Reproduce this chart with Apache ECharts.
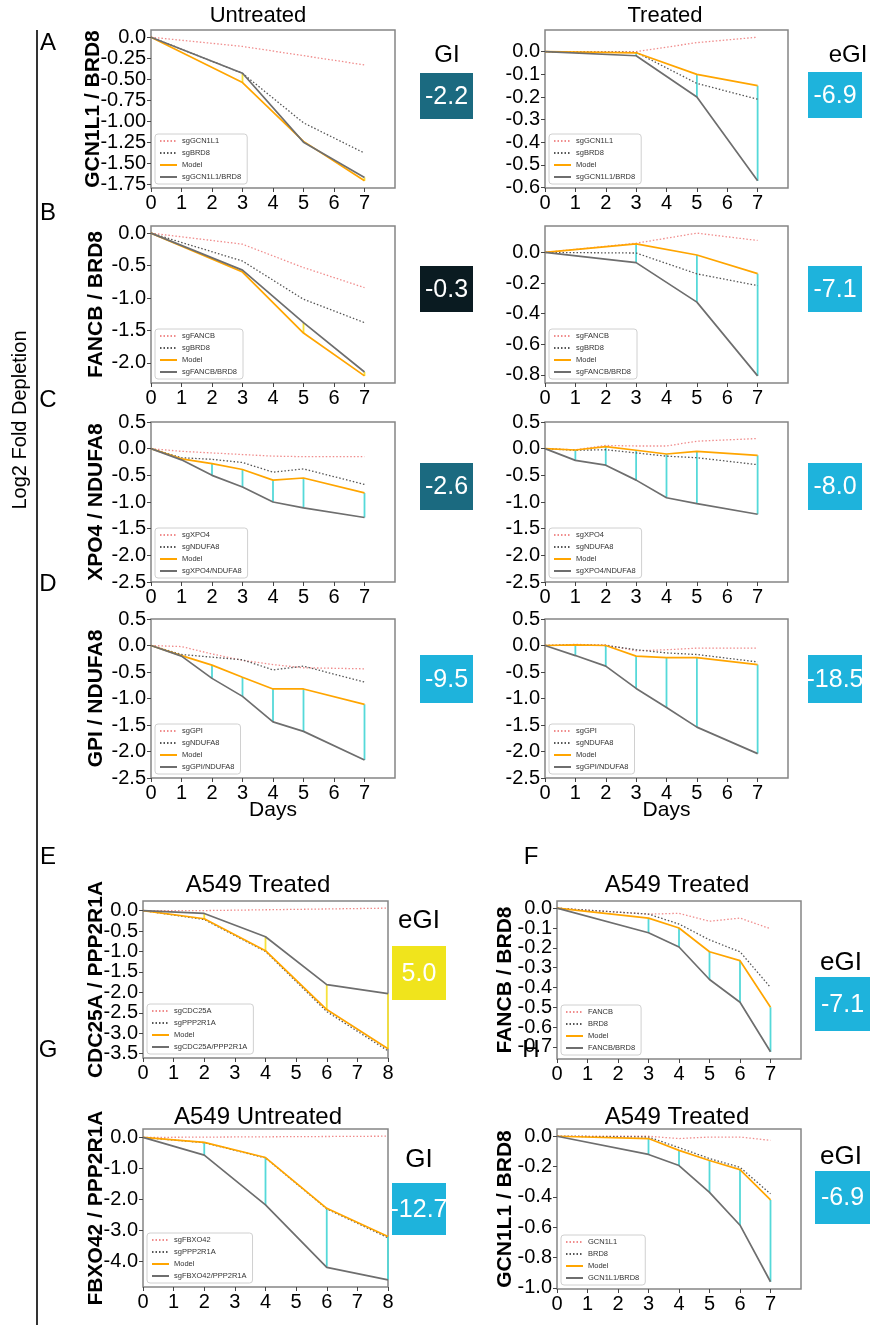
<!DOCTYPE html>
<html>
<head>
<meta charset="utf-8">
<script src="https://cdn.jsdelivr.net/npm/echarts@6/dist/echarts.min.js"></script>
<style>
html,body{margin:0;padding:0;background:#fff;}
#main{width:872px;height:1331px;}
</style>
</head>
<body>
<div id="main"></div>
<script>
// log2 fold depletion per day
var days0357 = [0, 3, 5, 7];
var days7 = [0, 1, 2, 3, 4, 5, 7];
var days8 = [0, 2, 4, 6, 8];
var daysA549 = [0, 3, 4, 5, 6, 7];

// A  GCN1L1 / BRD8
var aUntGene1 = [0, -0.11, -0.22, -0.33];
var aUntGene2 = [0, -0.43, -1.02, -1.38];
var aUntModel = [0, -0.54, -1.24, -1.71];
var aUntDouble = [0, -0.43, -1.25, -1.67];
var aTrtGene1 = [0, 0.0, 0.04, 0.064];
var aTrtGene2 = [0, -0.003, -0.14, -0.21];
var aTrtModel = [0, -0.005, -0.10, -0.15];
var aTrtDouble = [0, -0.018, -0.20, -0.57];
// B  FANCB / BRD8
var bUntGene1 = [0, -0.17, -0.53, -0.84];
var bUntGene2 = [0, -0.43, -1.02, -1.38];
var bUntModel = [0, -0.60, -1.54, -2.20];
var bUntDouble = [0, -0.57, -1.38, -2.14];
var bTrtGene1 = [0, 0.06, 0.126, 0.078];
var bTrtGene2 = [0, -0.004, -0.14, -0.217];
var bTrtModel = [0, 0.056, -0.017, -0.139];
var bTrtDouble = [0, -0.067, -0.325, -0.807];
// C  XPO4 / NDUFA8
var cUntGene1 = [0, -0.05, -0.08, -0.11, -0.14, -0.15, -0.15];
var cUntGene2 = [0, -0.17, -0.20, -0.26, -0.44, -0.38, -0.67];
var cUntModel = [0, -0.19, -0.28, -0.39, -0.59, -0.55, -0.83];
var cUntDouble = [0, -0.21, -0.50, -0.72, -1.00, -1.11, -1.29];
var cTrtGene1 = [0, -0.02, 0.06, 0.05, 0.05, 0.14, 0.19];
var cTrtGene2 = [0, -0.03, -0.02, -0.08, -0.14, -0.17, -0.30];
var cTrtModel = [0, -0.025, 0.04, -0.03, -0.10, -0.05, -0.125];
var cTrtDouble = [0, -0.22, -0.31, -0.59, -0.92, -1.03, -1.23];
// D  GPI / NDUFA8
var dUntGene1 = [0, -0.02, -0.16, -0.28, -0.36, -0.42, -0.44];
var dUntGene2 = [0, -0.17, -0.22, -0.27, -0.46, -0.39, -0.69];
var dUntModel = [0, -0.19, -0.37, -0.60, -0.82, -0.82, -1.11];
var dUntDouble = [0, -0.20, -0.62, -0.96, -1.44, -1.62, -2.16];
var dTrtGene1 = [0, 0.02, 0.01, -0.10, -0.08, -0.05, -0.05];
var dTrtGene2 = [0, 0.01, 0.0, -0.08, -0.14, -0.17, -0.31];
var dTrtModel = [0, 0.01, 0.0, -0.20, -0.23, -0.23, -0.36];
var dTrtDouble = [0, -0.19, -0.39, -0.81, -1.17, -1.54, -2.04];
// E  CDC25A / PPP2R1A (A549 treated)
var eGene1 = [0, 0.0, 0.02, 0.04, 0.06];
var eGene2 = [0, -0.22, -1.00, -2.47, -3.43];
var eModel = [0, -0.20, -0.98, -2.42, -3.38];
var eDouble = [0, -0.07, -0.64, -1.81, -2.03];
// F  FANCB / BRD8 (A549 treated)
var fGene1 = [0, -0.03, -0.026, -0.066, -0.05, -0.104];
var fGene2 = [0, -0.03, -0.08, -0.16, -0.22, -0.40];
var fModel = [0, -0.05, -0.10, -0.22, -0.265, -0.50];
var fDouble = [0, -0.124, -0.196, -0.36, -0.475, -0.725];
// G  FBXO42 / PPP2R1A (A549 untreated)
var gGene1 = [0, 0.01, 0.02, 0.03, 0.04];
var gGene2 = [0, -0.17, -0.66, -2.31, -3.24];
var gModel = [0, -0.16, -0.65, -2.29, -3.20];
var gDouble = [0, -0.57, -2.18, -4.20, -4.60];
// H  GCN1L1 / BRD8 (A549 treated)
var hGene1 = [0, 0.0, -0.015, -0.005, -0.005, -0.027];
var hGene2 = [0, -0.005, -0.075, -0.147, -0.205, -0.38];
var hModel = [0, -0.015, -0.093, -0.16, -0.22, -0.42];
var hDouble = [0, -0.12, -0.193, -0.37, -0.587, -0.96];

// legend names
var legendA = ['sgGCN1L1', 'sgBRD8', 'Model', 'sgGCN1L1/BRD8'];
var legendB = ['sgFANCB', 'sgBRD8', 'Model', 'sgFANCB/BRD8'];
var legendC = ['sgXPO4', 'sgNDUFA8', 'Model', 'sgXPO4/NDUFA8'];
var legendD = ['sgGPI', 'sgNDUFA8', 'Model', 'sgGPI/NDUFA8'];
var legendE = ['sgCDC25A', 'sgPPP2R1A', 'Model', 'sgCDC25A/PPP2R1A'];
var legendF = ['FANCB', 'BRD8', 'Model', 'FANCB/BRD8'];
var legendG = ['sgFBXO42', 'sgPPP2R1A', 'Model', 'sgFBXO42/PPP2R1A'];
var legendH = ['GCN1L1', 'BRD8', 'Model', 'GCN1L1/BRD8'];

// tick labels
var xTicks7 = [0, 1, 2, 3, 4, 5, 6, 7];
var xTicks8 = [0, 1, 2, 3, 4, 5, 6, 7, 8];
var yTicksAUnt = [0, -0.25, -0.5, -0.75, -1, -1.25, -1.5, -1.75];
var yTicksATrt = [0, -0.1, -0.2, -0.3, -0.4, -0.5, -0.6];
var yTicksBUnt = [0, -0.5, -1, -1.5, -2];
var yTicksBTrt = [0, -0.2, -0.4, -0.6, -0.8];
var yTicksCD = [0.5, 0, -0.5, -1, -1.5, -2, -2.5];
var yTicksE = [0, -0.5, -1, -1.5, -2, -2.5, -3, -3.5];
var yTicksF = [0, -0.1, -0.2, -0.3, -0.4, -0.5, -0.6, -0.7];
var yTicksG = [0, -1, -2, -3, -4];
var yTicksH = [0, -0.2, -0.4, -0.6, -0.8, -1];

// interaction scores shown in the coloured boxes
var giValues = [-2.2, -6.9, -0.3, -7.1, -2.6, -8.0, -9.5, -18.5, 5.0, -7.1, -12.7, -6.9];

var FONT = '"Liberation Sans", Arial, Helvetica, sans-serif';
var H = 1331;
var L1 = 151, L2 = 545, W1 = 244, W2 = 243;

var panels = [
    {days: days0357, g1: aUntGene1, g2: aUntGene2, m: aUntModel, d: aUntDouble, names: legendA, left: L1, top: 30, width: W1, height: 158, yTicks: yTicksAUnt, dec: 2, xTicks: xTicks7, yName: 'GCN1L1 / BRD8', yGap: 47},
    {days: days0357, g1: aTrtGene1, g2: aTrtGene2, m: aTrtModel, d: aTrtDouble, names: legendA, left: L2, top: 30, width: W2, height: 158, yTicks: yTicksATrt, dec: 1, xTicks: xTicks7},
    {days: days0357, g1: bUntGene1, g2: bUntGene2, m: bUntModel, d: bUntDouble, names: legendB, left: L1, top: 226, width: W1, height: 157, yTicks: yTicksBUnt, dec: 1, xTicks: xTicks7, yName: 'FANCB / BRD8', yGap: 44},
    {days: days0357, g1: bTrtGene1, g2: bTrtGene2, m: bTrtModel, d: bTrtDouble, names: legendB, left: L2, top: 226, width: W2, height: 157, yTicks: yTicksBTrt, dec: 1, xTicks: xTicks7},
    {days: days7, g1: cUntGene1, g2: cUntGene2, m: cUntModel, d: cUntDouble, names: legendC, left: L1, top: 422, width: W1, height: 160, yTicks: yTicksCD, dec: 1, xTicks: xTicks7, ylim: [-2.5, 0.5], yName: 'XPO4 / NDUFA8', yGap: 44},
    {days: days7, g1: cTrtGene1, g2: cTrtGene2, m: cTrtModel, d: cTrtDouble, names: legendC, left: L2, top: 422, width: W2, height: 160, yTicks: yTicksCD, dec: 1, xTicks: xTicks7, ylim: [-2.5, 0.5]},
    {days: days7, g1: dUntGene1, g2: dUntGene2, m: dUntModel, d: dUntDouble, names: legendD, left: L1, top: 619, width: W1, height: 159, yTicks: yTicksCD, dec: 1, xTicks: xTicks7, ylim: [-2.5, 0.5], yName: 'GPI / NDUFA8', yGap: 44, xName: 'Days'},
    {days: days7, g1: dTrtGene1, g2: dTrtGene2, m: dTrtModel, d: dTrtDouble, names: legendD, left: L2, top: 619, width: W2, height: 159, yTicks: yTicksCD, dec: 1, xTicks: xTicks7, ylim: [-2.5, 0.5], xName: 'Days'},
    {days: days8, g1: eGene1, g2: eGene2, m: eModel, d: eDouble, names: legendE, left: 143, top: 901, width: 245, height: 157, yTicks: yTicksE, dec: 1, xTicks: xTicks8, yName: 'CDC25A / PPP2R1A', yGap: 36},
    {days: daysA549, g1: fGene1, g2: fGene2, m: fModel, d: fDouble, names: legendF, left: 557, top: 901, width: 244, height: 158, yTicks: yTicksF, dec: 1, xTicks: xTicks7, yName: 'FANCB / BRD8', yGap: 41},
    {days: days8, g1: gGene1, g2: gGene2, m: gModel, d: gDouble, names: legendG, left: 143, top: 1129, width: 245, height: 158, yTicks: yTicksG, dec: 1, xTicks: xTicks8, yName: 'FBXO42 / PPP2R1A', yGap: 36},
    {days: daysA549, g1: hGene1, g2: hGene2, m: hModel, d: hDouble, names: legendH, left: 557, top: 1129, width: 244, height: 160, yTicks: yTicksH, dec: 1, xTicks: xTicks7, yName: 'GCN1L1 / BRD8', yGap: 41}
];

// score boxes: x, y, w, h, colour
var boxes = [
    [420, 73, 53, 46, '#1b6a80'], [808, 72, 54, 46, '#1eb3dc'],
    [420, 266, 53, 46, '#0a1b21'], [808, 266, 54, 46, '#1eb3dc'],
    [420, 463, 53, 47, '#1b6a80'], [808, 463, 54, 47, '#1eb3dc'],
    [420, 655, 53, 48, '#1eb3dc'], [808, 655, 54, 48, '#1eb3dc'],
    [392, 946, 54, 54, '#f0e41c'], [815, 977, 55, 54, '#1eb3dc'],
    [392, 1183, 54, 52, '#1eb3dc'], [815, 1171, 55, 53, '#1eb3dc']
];

function pairs(xs, ys) {
    return xs.map(function (x, i) { return [x, ys[i]]; });
}

function autoLim(list) {
    var all = [].concat.apply([], list);
    var lo = Math.min.apply(null, all), hi = Math.max.apply(null, all);
    var pad = (hi - lo) * 0.05;
    return [lo - pad, hi + pad];
}

var grids = [], xAxes = [], yAxes = [], series = [], legends = [];
var lineCommon = {type: 'line', symbol: 'none', showSymbol: false, silent: true, animation: false};

panels.forEach(function (p, i) {
    grids.push({left: p.left, top: p.top, width: p.width, height: p.height, show: true,
        borderColor: '#858585', borderWidth: 1.5, backgroundColor: 'transparent'});
    var lim = p.ylim || autoLim([p.g1, p.g2, p.m, p.d]);
    var dec = p.dec;
    xAxes.push({
        gridIndex: i, type: 'value', min: 0, max: 8,
        axisLine: {show: false, onZero: false},
        splitLine: {show: false},
        axisTick: {show: true, length: 4, lineStyle: {color: '#444'}, customValues: p.xTicks},
        axisLabel: {customValues: p.xTicks, fontSize: 20, color: '#000', fontFamily: FONT, margin: 5},
        name: p.xName || '', nameLocation: 'middle', nameGap: 22, nameMoveOverlap: false,
        nameTextStyle: {fontSize: 21, color: '#000', fontFamily: FONT}
    });
    yAxes.push({
        gridIndex: i, type: 'value', min: lim[0], max: lim[1],
        axisLine: {show: false, onZero: false},
        splitLine: {show: false},
        axisTick: {show: true, length: 4, lineStyle: {color: '#444'}, customValues: p.yTicks},
        axisLabel: {customValues: p.yTicks, fontSize: 20, color: '#000', fontFamily: FONT, margin: 5,
            formatter: function (v) { return Math.abs(v) < 1e-9 ? '0.0' : v.toFixed(dec); }},
        name: p.yName || '', nameLocation: 'middle', nameRotate: 90, nameGap: p.yGap || 40, nameMoveOverlap: false,
        nameTextStyle: {fontSize: 21, fontWeight: 'bold', color: '#000', fontFamily: FONT}
    });
    // vertical connectors between model and observed double knockout
    series.push({
        type: 'custom', xAxisIndex: i, yAxisIndex: i, silent: true, animation: false, z: 1,
        data: p.days.map(function (x, k) { return [x, p.m[k], p.d[k]]; }).filter(function (r) { return r[0] > 0; }),
        renderItem: function (params, api) {
            var x = api.value(0), m = api.value(1), d = api.value(2);
            var a = api.coord([x, m]), b = api.coord([x, d]);
            return {type: 'line', shape: {x1: a[0], y1: a[1], x2: b[0], y2: b[1]},
                style: {stroke: d < m ? '#55d9d9' : '#f7e23c', lineWidth: 1.8}};
        }
    });
    series.push(Object.assign({}, lineCommon, {name: p.names[0], xAxisIndex: i, yAxisIndex: i, z: 2,
        data: pairs(p.days, p.g1), itemStyle: {color: '#f08c8c'}, lineStyle: {color: '#f08c8c', width: 1.3, type: [1.5, 2]}}));
    series.push(Object.assign({}, lineCommon, {name: p.names[1], xAxisIndex: i, yAxisIndex: i, z: 2,
        data: pairs(p.days, p.g2), itemStyle: {color: '#555'}, lineStyle: {color: '#555', width: 1.3, type: [1.5, 2]}}));
    series.push(Object.assign({}, lineCommon, {name: p.names[2], xAxisIndex: i, yAxisIndex: i, z: 3,
        data: pairs(p.days, p.m), itemStyle: {color: '#ffa500'}, lineStyle: {color: '#ffa500', width: 1.7}}));
    series.push(Object.assign({}, lineCommon, {name: p.names[3], xAxisIndex: i, yAxisIndex: i, z: 3,
        data: pairs(p.days, p.d), itemStyle: {color: '#6e6e6e'}, lineStyle: {color: '#6e6e6e', width: 1.7}}));
    legends.push({
        orient: 'vertical', left: p.left + 4, bottom: H - (p.top + p.height) + 4,
        itemWidth: 17, itemHeight: 7, itemGap: 4, padding: [3, 6, 3, 4],
        borderColor: '#d0d0d0', borderWidth: 1, borderRadius: 3, backgroundColor: '#fff',
        selectedMode: false, data: p.names, z: 10,
        itemStyle: {color: 'rgba(0,0,0,0)', borderWidth: 0, opacity: 0},
        textStyle: {fontSize: 7.5, color: '#333', fontFamily: FONT}
    });
});

function txt(x, y, s, size, extra) {
    return {type: 'text', x: x, y: y, rotation: (extra && extra.rot) || 0, z: 20,
        style: Object.assign({text: s, fill: '#000', font: size + 'px ' + FONT, align: 'center', verticalAlign: 'middle'},
            (extra && extra.style) || {})};
}

var graphics = [
    {type: 'line', shape: {x1: 37, y1: 30, x2: 37, y2: 1325}, style: {stroke: '#000', lineWidth: 1.6}},
    txt(20, 420, 'Log2 Fold Depletion', 20, {rot: Math.PI / 2}),
    txt(258, 16, 'Untreated', 22), txt(665, 16, 'Treated', 22),
    txt(48, 43, 'A', 24), txt(48, 213, 'B', 24), txt(48, 400, 'C', 24), txt(48, 584, 'D', 24),
    txt(48, 857, 'E', 24), txt(531, 857, 'F', 24), txt(48, 1050, 'G', 24), txt(531, 1050, 'H', 24),
    txt(258, 885, 'A549 Treated', 24), txt(677, 885, 'A549 Treated', 24),
    txt(258, 1117, 'A549 Untreated', 24), txt(677, 1117, 'A549 Treated', 24),
    txt(447, 55, 'GI', 24), txt(848, 55, 'eGI', 24),
    txt(419, 921, 'eGI', 26), txt(841, 963, 'eGI', 26),
    txt(419, 1160, 'GI', 26), txt(841, 1157, 'eGI', 26)
];
boxes.forEach(function (b, i) {
    graphics.push({type: 'rect', shape: {x: b[0], y: b[1], width: b[2], height: b[3]}, style: {fill: b[4]}, z: 15});
    graphics.push(txt(b[0] + b[2] / 2, b[1] + b[3] / 2 + 1, giValues[i].toFixed(1), 25, {style: {fill: '#fff'}}));
});

var myChart = echarts.init(document.getElementById('main'), null, {renderer: 'canvas'});
myChart.setOption({
    animation: false,
    backgroundColor: '#fff',
    grid: grids,
    xAxis: xAxes,
    yAxis: yAxes,
    legend: legends,
    series: series,
    graphic: graphics
});
</script>
</body>
</html>
